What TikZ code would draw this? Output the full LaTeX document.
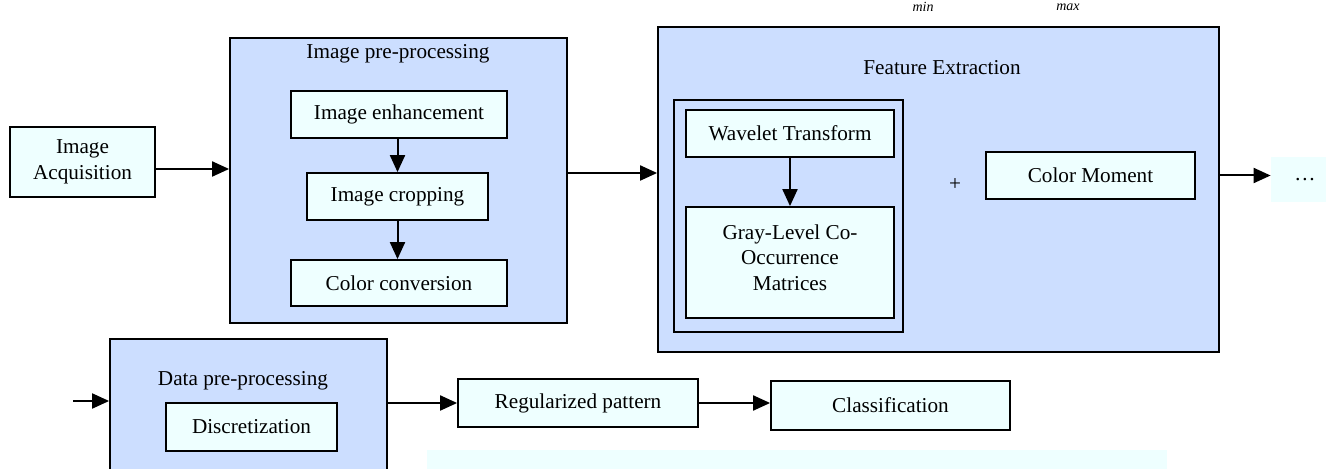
\documentclass[tikz,border=0pt]{standalone}
\usepackage{fontspec}
\setmainfont{Liberation Serif}
\usetikzlibrary{arrows.meta}

\definecolor{stagefill}{RGB}{204,222,255}
\definecolor{taskfill}{RGB}{238,255,255}

\tikzset{
	stage/.style={draw, line width=0.9pt, fill=stagefill, inner sep=0pt},
	task/.style={draw, line width=0.9pt, fill=taskfill, align=center, inner sep=0pt},
	flow/.style={line width=1pt, -{Triangle[length=8.5pt,width=7.5pt]}},
}

\begin{document}
\fontsize{10.6}{12.7}\selectfont
\begin{tikzpicture}[x=0.5pt, y=-0.5pt]
		\useasboundingbox (0,0) rectangle (1326,469);
		% stray subscripts above the chart
		\node[font=\fontsize{7}{8}\selectfont\itshape] at (923,7) {min};
		\node[font=\fontsize{7}{8}\selectfont\itshape] at (1068,7) {max};
		% acquisition
		\node[task, minimum width=72.5pt, minimum height=35pt] (acq) at (82.5,162) {Image\\Acquisition};
		% image pre-processing
		\node[stage, minimum width=168.5pt, minimum height=142.5pt] (imgpre) at (398.5,180.5) {};
		\node at (398,54) {Image pre-processing};
		\node[task, minimum width=108pt, minimum height=23.5pt] (enh) at (399,114.5) {Image enhancement};
		\node[task, minimum width=90.5pt, minimum height=23.5pt] (crop) at (397.5,196.5) {Image cropping};
		\node[task, minimum width=108pt, minimum height=23pt] (conv) at (399,283) {Color conversion};
		\draw[flow] (crop |- enh.south) -- (crop.north);
		\draw[flow] (crop.south) -- (crop.south |- conv.north);
		% feature extraction
		\node[stage, minimum width=280.5pt, minimum height=162.5pt] (feat) at (938.5,189.5) {};
		\node at (942,68) {Feature Extraction};
		\node[stage, minimum width=114.5pt, minimum height=116pt] (frame) at (788.5,216) {};
		\node[task, minimum width=104pt, minimum height=23.5pt] (wav) at (790,133.5) {Wavelet Transform};
		\node[task, minimum width=104pt, minimum height=55.5pt] (glcm) at (790,262.5) {};
		\node[align=center] at (790,257.5) {Gray-Level Co-\\Occurrence\\Matrices};
		\draw[flow] (wav) -- (glcm);
		\node (plus) at (955,185) {+};
		\node[task, minimum width=104.5pt, minimum height=23.5pt] (moment) at (1090.5,175.5) {Color Moment};
		\node[fill=taskfill, minimum width=34pt, minimum height=22.5pt] (dots) at (1305,179.5) {\dots};
		% main chain
		\draw[flow] ([yshift=-3.5pt]acq.east) -- ([yshift=-3.5pt]acq.east -| imgpre.west);
		\draw[flow] ([yshift=3.75pt]imgpre.east) -- ([yshift=3.75pt]imgpre.east -| feat.west);
		\draw[flow] (feat.east |- moment) -- (dots.west |- moment);
		% second row
		\coordinate (in) at (73,401);
		\node[stage, minimum width=138.5pt, minimum height=80.5pt] (datapre) at (248.5,419.5) {};
		\node at (243,381) {Data pre-processing};
		\node[task, minimum width=85.5pt, minimum height=24pt] (disc) at (251.5,427) {Discretization};
		\node[task, minimum width=120pt, minimum height=24pt] (reg) at (578,403) {Regularized pattern};
		\node[task, minimum width=119.5pt, minimum height=24.5pt] (cls) at (890.5,405.5) {Classification};
		\draw[flow] (in) -- (in -| datapre.west);
		\draw[flow] (datapre.east |- reg) -- (reg.west);
		\draw[flow] (reg.east) -- (reg.east -| cls.west);
		% caption strip
		\fill[taskfill] (427,450) rectangle (1167,480);
	\end{tikzpicture}
\end{document}
